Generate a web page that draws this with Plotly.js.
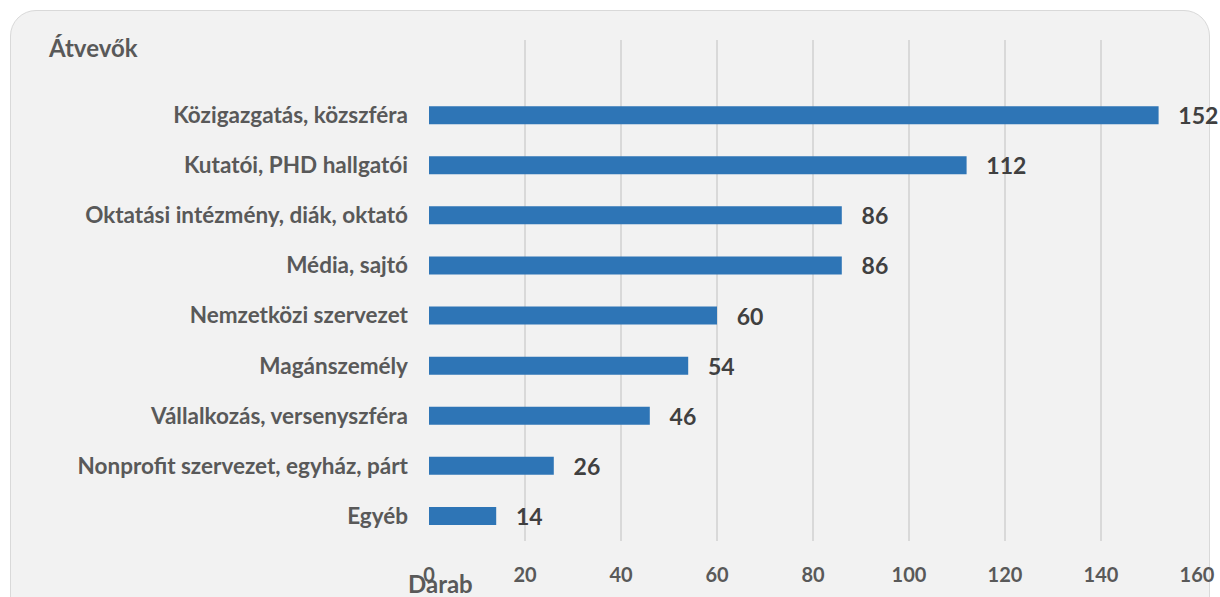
<!DOCTYPE html>
<html>
<head>
<meta charset="utf-8">
<script src="https://cdn.plot.ly/plotly-3.0.1.min.js"></script>
<style>
  html, body { margin:0; padding:0; background:#ffffff; width:1220px; height:597px; overflow:hidden; }
  #frame { position:absolute; left:10px; top:10px; width:1200px; height:620px; background:#f2f2f2;
           border:1.5px solid #d9d9d9; border-radius:26px; box-sizing:border-box; }
  #chart { position:absolute; left:0; top:0; width:1220px; height:597px; }
</style>
</head>
<body>
<div id="frame"></div>
<div id="chart"></div>
<script>
const categories = [
  "Egyéb",
  "Nonprofit szervezet, egyház, párt",
  "Vállalkozás, versenyszféra",
  "Magánszemély",
  "Nemzetközi szervezet",
  "Média, sajtó",
  "Oktatási intézmény, diák, oktató",
  "Kutatói, PHD hallgatói",
  "Közigazgatás, közszféra"
];
const values = [14, 26, 46, 54, 60, 86, 86, 112, 152];
const xTicks = [0, 20, 40, 60, 80, 100, 120, 140, 160];
const chartTitle = "Átvevők";
const xTitle = "Darab";

const labelFont = "Lato, 'Open Sans', sans-serif";

const trace = {
  type: "bar",
  orientation: "h",
  y: categories,
  x: values,
  width: 0.36,
  marker: { color: "#2e75b6", line: { width: 0 } },
  text: values.map(v => String(v)),
  texttemplate: "\u00a0\u00a0\u00a0%{text}",
  textposition: "outside",
  constraintext: "none",
  cliponaxis: false,
  textfont: { family: labelFont, size: 23, color: "#404040", weight: 700 },
  hoverinfo: "skip"
};

const layout = {
  width: 1220, height: 597,
  margin: { l: 429, r: 23, t: 40, b: 56 },
  paper_bgcolor: "rgba(0,0,0,0)",
  plot_bgcolor: "rgba(0,0,0,0)",
  showlegend: false,
  bargap: 0.64,
  xaxis: {
    range: [0, 160],
    tickvals: xTicks,
    ticktext: xTicks.map(String),
    showgrid: true, gridcolor: "#d9d9d9", gridwidth: 1.3,
    zeroline: false, showline: false, ticks: "",
    ticklabelstandoff: 20,
    tickfont: { family: labelFont, size: 20, color: "#595959", weight: 700 },
    fixedrange: true
  },
  yaxis: {
    type: "category",
    categoryorder: "array",
    categoryarray: categories,
    range: [-0.5, 9.5],
    showgrid: false, zeroline: false, showline: false, ticks: "",
    ticklabelstandoff: 20,
    tickfont: { family: labelFont, size: 22.5, color: "#595959", weight: 700 },
    fixedrange: true
  },
  annotations: [
    { text: chartTitle, xref: "paper", yref: "paper", x: 0, y: 1, xanchor: "left", yanchor: "middle",
      xshift: -383, yshift: -7, showarrow: false,
      font: { family: labelFont, size: 24, color: "#595959", weight: 700 } },
    { text: xTitle, xref: "paper", yref: "paper", x: 0, y: 0, xanchor: "center", yanchor: "middle",
      xshift: 11, yshift: -42, showarrow: false,
      font: { family: labelFont, size: 24, color: "#595959", weight: 700 } }
  ]
};

Plotly.newPlot("chart", [trace], layout, { displayModeBar: false, staticPlot: true });
</script>
</body>
</html>
